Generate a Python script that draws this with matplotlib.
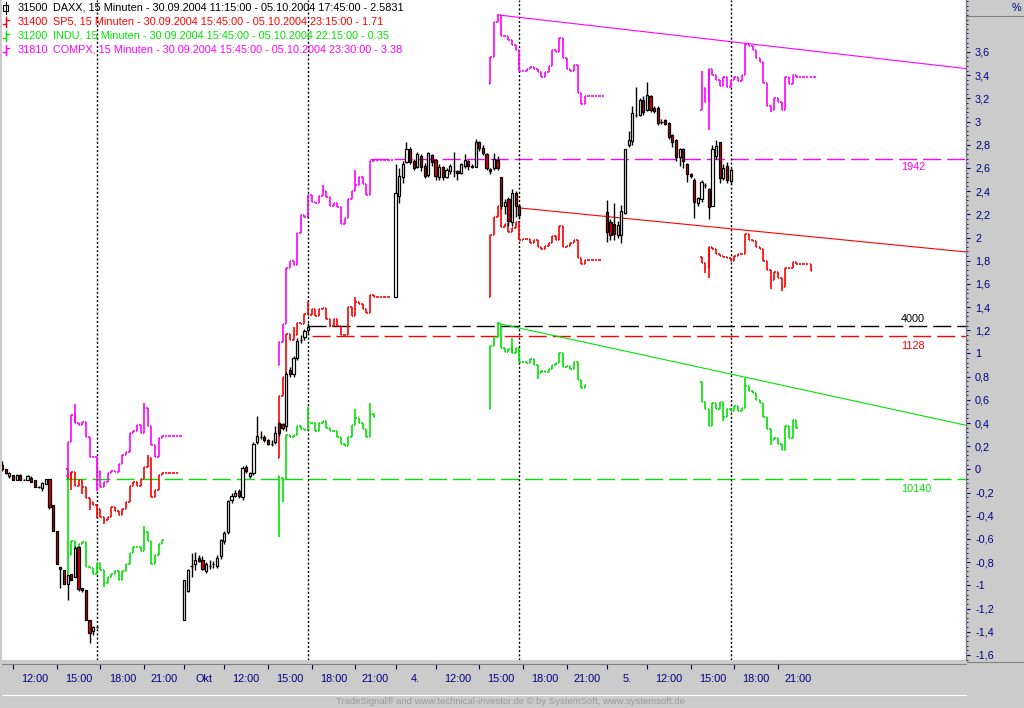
import matplotlib
matplotlib.use('Agg')
import matplotlib.pyplot as plt
import numpy as np
import pandas as pd
from matplotlib.collections import LineCollection
from matplotlib.lines import Line2D
from matplotlib.patches import Rectangle
from matplotlib.ticker import FixedLocator, MultipleLocator, FuncFormatter

# 15 minute bars, the time axis only holds bars that exist
SESSION_DAYS = ['2004-09-30', '2004-10-01', '2004-10-04', '2004-10-05']
SESSION_FIRST = ['11:15', '09:15', '09:15', '09:15']
SESSION_LAST = '23:30'
US_FIRST = '15:45'
DAX_LAST = '17:45'
MONTHS_DE = {10: 'Okt'}

# DAXX candles in %, one row per day
DAX_OPEN = [
    [0.04, 0.00, -0.06, -0.05, -0.09, -0.05, -0.09, -0.09, -0.07, -0.09, -0.15, -0.16, -0.13, -0.08,
     -0.31, -0.53, -0.84, -0.87, -0.99, -0.90, -0.93, -0.67, -1.02, -1.04, -1.30, -1.39, -1.36],
    [-1.30, -1.05, -0.83, -0.82, -0.76, -0.78, -0.88, -0.83, -0.82, -0.83, -0.75, -0.62, -0.54, -0.26,
     -0.23, -0.19, -0.24, 0.02, -0.06, -0.03, 0.24, 0.28, 0.28, 0.25, 0.22, 0.24, 0.40, 0.39, 0.37,
     0.86, 0.82, 0.96, 1.12, 1.14, 1.20],
    [1.49, 2.36, 2.52, 2.65, 2.76, 2.66, 2.61, 2.70, 2.62, 2.54, 2.71, 2.67, 2.52, 2.61, 2.52, 2.57,
     2.57, 2.57, 2.56, 2.62, 2.66, 2.62, 2.61, 2.82, 2.77, 2.72, 2.59, 2.60, 2.67, 2.52, 2.27, 2.33,
     2.13, 2.38, 2.27],
    [2.22, 2.13, 2.12, 2.02, 2.02, 2.21, 2.80, 2.83, 3.06, 3.06, 3.19, 3.10, 3.22, 3.12, 3.12, 3.00,
     3.01, 2.99, 2.88, 2.84, 2.69, 2.76, 2.63, 2.55, 2.50, 2.30, 2.33, 2.45, 2.42, 2.27, 2.70, 2.82,
     2.51, 2.62, 2.49],
]
DAX_HIGH = [
    [0.07, 0.00, -0.02, -0.05, -0.04, -0.04, -0.08, -0.05, -0.06, -0.09, -0.14, -0.11, -0.08, -0.08,
     -0.31, -0.53, -0.84, -0.87, -0.91, -0.90, -0.66, -0.66, -1.02, -1.04, -1.30, -1.35, -1.35],
    [-0.95, -0.86, -0.72, -0.71, -0.74, -0.75, -0.80, -0.78, -0.79, -0.74, -0.60, -0.53, -0.26, -0.20,
     -0.18, -0.17, 0.03, 0.04, -0.02, 0.24, 0.46, 0.33, 0.30, 0.26, 0.25, 0.37, 0.41, 0.40, 0.84,
     0.88, 0.98, 1.13, 1.16, 1.21, 1.26],
    [2.63, 2.60, 2.66, 2.82, 2.78, 2.68, 2.74, 2.72, 2.64, 2.74, 2.72, 2.68, 2.63, 2.62, 2.60, 2.63,
     2.74, 2.58, 2.64, 2.72, 2.67, 2.63, 2.85, 2.83, 2.80, 2.73, 2.60, 2.73, 2.70, 2.52, 2.33, 2.35,
     2.42, 2.40, 2.29],
    [2.32, 2.16, 2.30, 2.14, 2.28, 2.76, 2.92, 3.13, 3.30, 3.20, 3.22, 3.34, 3.23, 3.13, 3.13, 3.02,
     3.02, 3.00, 2.89, 2.85, 2.77, 2.77, 2.64, 2.56, 2.51, 2.35, 2.50, 2.47, 2.43, 2.80, 2.84, 2.82,
     2.63, 2.65, 2.60],
]
DAX_LOW = [
    [-0.01, -0.04, -0.07, -0.09, -0.09, -0.09, -0.09, -0.09, -0.11, -0.15, -0.16, -0.19, -0.13, -0.34,
     -0.53, -0.82, -1.02, -0.99, -1.13, -0.95, -0.93, -1.05, -1.06, -1.30, -1.50, -1.43, -1.37],
    [-1.30, -1.06, -0.93, -0.87, -0.80, -0.87, -0.89, -0.86, -0.85, -0.85, -0.77, -0.64, -0.56, -0.29,
     -0.24, -0.25, -0.26, -0.03, -0.07, -0.05, 0.22, 0.26, 0.24, 0.21, 0.20, 0.22, 0.29, 0.34, 0.33,
     0.80, 0.80, 0.94, 1.09, 1.12, 1.18],
    [1.49, 2.30, 2.47, 2.64, 2.63, 2.58, 2.60, 2.57, 2.51, 2.52, 2.62, 2.50, 2.50, 2.50, 2.51, 2.55,
     2.52, 2.50, 2.55, 2.60, 2.58, 2.60, 2.61, 2.75, 2.71, 2.58, 2.55, 2.58, 2.58, 2.25, 2.20, 2.10,
     2.10, 2.18, 2.16],
    [1.96, 1.98, 1.98, 2.00, 1.95, 2.20, 2.78, 2.80, 3.04, 3.05, 3.06, 3.09, 3.08, 3.07, 2.97, 2.98,
     2.97, 2.85, 2.78, 2.66, 2.62, 2.60, 2.48, 2.51, 2.17, 2.27, 2.31, 2.43, 2.16, 2.27, 2.68, 2.47,
     2.50, 2.47, 2.46],
]
DAX_CLOSE = [
    [0.00, -0.03, -0.03, -0.09, -0.05, -0.09, -0.09, -0.06, -0.11, -0.15, -0.15, -0.12, -0.08, -0.32,
     -0.53, -0.82, -0.86, -0.99, -0.91, -0.95, -0.68, -1.03, -1.04, -1.30, -1.41, -1.36, -1.36],
    [-0.95, -0.87, -0.83, -0.78, -0.79, -0.86, -0.82, -0.83, -0.82, -0.76, -0.61, -0.55, -0.27, -0.23,
     -0.20, -0.23, 0.01, -0.01, -0.03, 0.22, 0.29, 0.28, 0.25, 0.22, 0.22, 0.31, 0.31, 0.36, 0.82,
     0.82, 0.96, 1.11, 1.12, 1.19, 1.23],
    [2.38, 2.53, 2.63, 2.76, 2.65, 2.60, 2.72, 2.61, 2.53, 2.73, 2.65, 2.53, 2.61, 2.52, 2.58, 2.62,
     2.57, 2.56, 2.63, 2.67, 2.62, 2.61, 2.82, 2.77, 2.73, 2.60, 2.57, 2.68, 2.60, 2.27, 2.31, 2.14,
     2.38, 2.27, 2.19],
    [2.05, 2.02, 2.03, 2.11, 2.23, 2.76, 2.84, 3.07, 3.06, 3.19, 3.08, 3.23, 3.10, 3.09, 2.99, 3.00,
     2.98, 2.87, 2.82, 2.69, 2.76, 2.66, 2.55, 2.53, 2.31, 2.34, 2.48, 2.45, 2.26, 2.76, 2.79, 2.51,
     2.60, 2.50, 2.58],
]

# US indices in %, closes from 15:45 each day, plus the day's open
SP5_DAY_OPEN = [0.00, 0.10, 1.49, 1.83]
SP5_CLOSE = [
    [-0.08, -0.02, -0.14, -0.09, -0.15, -0.25, -0.28, -0.31, -0.34, -0.41, -0.44, -0.41, -0.32, -0.36,
     -0.39, -0.34, -0.28, -0.14, -0.11, -0.14, -0.08, 0.02, 0.10, -0.24, -0.18, -0.05,
     -0.03, -0.03, -0.03, -0.03, -0.03],
    [0.63, 0.80, 1.17, 1.12, 1.16, 1.26, 1.25, 1.34, 1.33, 1.38, 1.32, 1.38, 1.39, 1.30, 1.24, 1.30,
     1.24, 1.16, 1.16, 1.40, 1.32, 1.44, 1.43, 1.38, 1.35, 1.50,
     1.49, 1.49, 1.49, 1.49, 1.49],
    [2.02, 2.18, 2.27, 2.09, 2.12, 2.05, 2.08, 2.13, 1.98, 1.99, 1.99, 1.95, 1.98, 1.92, 1.90, 1.93,
     1.95, 2.01, 1.98, 2.10, 1.92, 1.93, 1.95, 1.98, 1.82, 1.77,
     1.81, 1.81, 1.81, 1.81, 1.81],
    [1.78, 1.74, 1.92, 1.90, 1.86, 1.84, 1.83, 1.82, 1.80, 1.84, 1.86, 1.86, 2.03, 1.98, 1.97, 1.92,
     1.90, 1.80, 1.72, 1.63, 1.70, 1.65, 1.57, 1.74, 1.74, 1.79,
     1.77, 1.77, 1.77, 1.77, 1.71],
]
SP5_EXTREMES = [(0, 1, -0.18), (0, 4, -0.21), (0, 6, -0.35), (0, 8, -0.42), (0, 10, -0.47),
                (0, 22, 0.12), (1, 4, 1.23), (1, 8, 1.45), (1, 14, 1.23), (1, 21, 1.49),
                (3, 1, 1.69), (3, 2, 1.65), (3, 19, 1.56), (3, 22, 1.535)]

INDU_DAY_OPEN = [-0.08, -0.06, 0.52, 0.75]
INDU_CLOSE = [
    [-0.74, -0.62, -0.70, -0.64, -0.63, -0.84, -0.85, -0.90, -0.81, -0.87, -0.98, -0.93, -0.90, -0.88,
     -0.95, -0.88, -0.82, -0.72, -0.67, -0.67, -0.70, -0.54, -0.62, -0.82, -0.74, -0.64, -0.61],
    [-0.07, -0.08, 0.30, 0.28, 0.30, 0.37, 0.35, 0.34, 0.40, 0.40, 0.33, 0.40, 0.42, 0.36, 0.33, 0.33,
     0.28, 0.22, 0.20, 0.28, 0.38, 0.44, 0.40, 0.35, 0.28, 0.48, 0.45],
    [1.06, 1.14, 1.25, 1.05, 1.01, 1.04, 1.00, 1.05, 0.93, 0.93, 0.92, 0.95, 0.90, 0.83, 0.85, 0.84,
     0.87, 0.90, 0.92, 1.00, 0.88, 0.89, 0.87, 0.93, 0.77, 0.70, 0.73],
    [0.58, 0.52, 0.37, 0.57, 0.52, 0.58, 0.45, 0.52, 0.50, 0.55, 0.50, 0.53, 0.72, 0.68, 0.66, 0.60,
     0.57, 0.45, 0.35, 0.25, 0.27, 0.22, 0.17, 0.37, 0.27, 0.43, 0.36],
]
INDU_EXTREMES = [(0, 0, -0.98), (0, 10, -1.01), (0, 21, -0.49), (1, 0, -0.58), (1, 1, -0.28),
                 (1, 8, 0.54), (1, 21, 0.52), (1, 25, 0.57), (2, 2, 1.27), (2, 6, 1.13),
                 (2, 13, 0.78), (3, 12, 0.79), (3, 19, 0.21), (3, 6, 0.42)]

COMPX_DAY_OPEN = [-0.06, 0.90, 3.32, 3.10]
COMPX_CLOSE = [
    [0.24, 0.47, 0.40, 0.38, 0.41, 0.28, 0.11, 0.11, -0.01, -0.15, -0.11, -0.03, -0.01, -0.02, 0.05,
     0.12, 0.15, 0.31, 0.33, 0.38, 0.31, 0.53, 0.37, 0.21, 0.11, 0.27,
     0.29, 0.29, 0.29, 0.29, 0.29, 0.29],
    [1.10, 1.25, 1.74, 1.80, 1.76, 2.04, 2.19, 2.18, 2.37, 2.31, 2.30, 2.36, 2.40, 2.35, 2.27, 2.30,
     2.26, 2.12, 2.17, 2.33, 2.40, 2.45, 2.52, 2.46, 2.37, 2.66,
     2.67, 2.67, 2.67, 2.67, 2.67, 2.67],
    [3.56, 3.86, 3.92, 3.74, 3.74, 3.70, 3.66, 3.62, 3.44, 3.44, 3.45, 3.47, 3.45, 3.43, 3.38, 3.43,
     3.48, 3.62, 3.60, 3.72, 3.55, 3.45, 3.44, 3.49, 3.25, 3.15,
     3.22, 3.22, 3.22, 3.22, 3.22, 3.22],
    [3.29, 3.17, 3.45, 3.40, 3.36, 3.31, 3.38, 3.30, 3.36, 3.38, 3.35, 3.40, 3.67, 3.65, 3.62, 3.55,
     3.51, 3.33, 3.13, 3.10, 3.20, 3.17, 3.10, 3.38, 3.32, 3.40,
     3.38, 3.38, 3.38, 3.38, 3.38, 3.38],
]
COMPX_EXTREMES = [(0, 2, 0.56), (0, 8, -0.19), (0, 21, 0.57), (1, 12, 2.45), (1, 21, 2.58),
                  (3, 0, 3.44), (3, 2, 2.93), (3, 19, 3.08)]

# horizontal reference lines
REF_NAMES = ['1942', '4000', '1128', '10140']
REF_LEVELS = [2.677, 1.237, 1.150, -0.083]
REF_FROM = [('2004-10-01', '22:00'), ('2004-10-01', '17:45'), ('2004-10-01', '18:00'),
            ('2004-09-30', '15:45')]

# trend lines: two anchors (day, time, %) each, drawn to the right edge
TREND_SERIES = ['COMPX', 'SP5', 'INDU']
TREND_START = [('2004-10-04', '16:15', 3.92), ('2004-10-04', '17:45', 2.255), ('2004-10-04', '16:15', 1.26)]
TREND_THROUGH = [('2004-10-05', '18:45', 3.675), ('2004-10-05', '18:45', 2.063), ('2004-10-05', '18:45', 0.795)]

LEGEND_IDS = ['31500', '31400', '31200', '31810']
LEGEND_TEXT = ['DAXX, 15 Minuten - 30.09.2004 11:15:00 - 05.10.2004 17:45:00 - 2.5831',
               'SP5, 15 Minuten - 30.09.2004 15:45:00 - 05.10.2004 23:15:00 - 1.71',
               'INDU, 15 Minuten - 30.09.2004 15:45:00 - 05.10.2004 22:15:00 - 0.35',
               'COMPX, 15 Minuten - 30.09.2004 15:45:00 - 05.10.2004 23:30:00 - 3.38']

COLORS = {'DAX': 'black', 'SP5': '#ff0000', 'INDU': '#00e400', 'COMPX': '#ff00ff'}
REF_COLORS = [COLORS['COMPX'], 'black', COLORS['SP5'], COLORS['INDU']]
LEGEND_COLORS = [COLORS['DAX'], COLORS['SP5'], COLORS['INDU'], COLORS['COMPX']]
NAVY = '#000080'
PANEL = '#cbcbcb'
FS = 7.8

W, H = 1024, 708
PLOT_L, PLOT_R, PLOT_B = 2, 966, 660
BAR0_PX, BAR_PX = 2.07, 3.643
ZERO_PX, UNIT_PX = 469.4, 115.95

plt.rcParams['font.family'] = ['Liberation Sans', 'DejaVu Sans']


def build_slots():
    stamps = []
    for day, first in zip(SESSION_DAYS, SESSION_FIRST):
        stamps.extend(pd.date_range(f'{day} {first}', f'{day} {SESSION_LAST}', freq='15min'))
    return pd.DatetimeIndex(stamps)


SLOTS = build_slots()


def slot_of(day, hhmm):
    return SLOTS.get_loc(pd.Timestamp(f'{day} {hhmm}'))


def fig_xy(x, y):
    return x / W, 1 - y / H


def time_ticks():
    ticks, labels = [], []
    for i, t in enumerate(SLOTS):
        if i > 0 and SLOTS[i - 1].date() != t.date():
            ticks.append(i)
            labels.append(MONTHS_DE[t.month] if t.month != SLOTS[i - 1].month else f'{t.day}.')
        elif t.minute == 0 and t.hour in (12, 15, 18, 21):
            ticks.append(i)
            labels.append(t.strftime('%H:%M'))
    return ticks, labels


def pct_label(v, pos):
    v = round(v, 1)
    if v == int(v):
        return str(int(v))
    return f'{v:.1f}'.replace('.', ',')


def draw_candles(ax):
    for d, day in enumerate(SESSION_DAYS):
        x0 = slot_of(day, SESSION_FIRST[d])
        o = np.array(DAX_OPEN[d])
        c = np.array(DAX_CLOSE[d])
        xs = x0 + np.arange(len(o))
        ax.vlines(xs, DAX_LOW[d], DAX_HIGH[d], color='black', lw=1.0, zorder=5)
        fills = ['white' if cc > oo else '#e00000' for oo, cc in zip(o, c)]
        ax.bar(xs, c - o, bottom=o, width=0.6, color=fills, edgecolor='black',
               linewidth=0.9, zorder=6)


def draw_us(ax, day_open, closes, extremes, color):
    tick = 0.36
    segs = []
    for d, day in enumerate(SESSION_DAYS):
        x0 = slot_of(day, US_FIRST)
        prev = day_open[d]
        for i, c in enumerate(closes[d]):
            x = x0 + i
            if c != prev:
                segs.append([(x, prev), (x, c)])
            segs.append([(x - tick, prev), (x, prev)])
            segs.append([(x, c), (x + tick, c)])
            prev = c
    for d, i, v in extremes:
        x = slot_of(SESSION_DAYS[d], US_FIRST) + i
        segs.append([(x, closes[d][i]), (x, v)])
    ax.add_collection(LineCollection(segs, colors=color, linewidths=1.2, capstyle='butt', zorder=4))


def main():
    fig = plt.figure(figsize=(W / 100, H / 100), dpi=100, facecolor=PANEL)
    ax = fig.add_axes([PLOT_L / W, 1 - PLOT_B / H, (PLOT_R - PLOT_L) / W, PLOT_B / H])
    ax.set_facecolor('white')
    xmin = (PLOT_L - BAR0_PX) / BAR_PX
    xmax = (PLOT_R - BAR0_PX) / BAR_PX
    ax.set_xlim(xmin, xmax)
    ax.set_ylim((ZERO_PX - PLOT_B) / UNIT_PX, ZERO_PX / UNIT_PX)

    for name, level, (day, hhmm), color in zip(REF_NAMES, REF_LEVELS, REF_FROM, REF_COLORS):
        ax.plot([slot_of(day, hhmm), xmax], [level, level], color=color, lw=1.0,
                dashes=(13, 4.3), zorder=1)
    label_x = (901 - BAR0_PX) / BAR_PX
    for name, level, color, dy in zip(REF_NAMES, REF_LEVELS, REF_COLORS, [-8, 7, -10, -10]):
        ax.annotate(name, (label_x, level), xytext=(0, dy * 0.72), textcoords='offset points',
                    ha='left', va='center', color=color, fontsize=FS, zorder=8)

    for day in SESSION_DAYS:
        ax.axvline(slot_of(day, DAX_LAST), color='black', lw=1.0, dashes=(1.5, 1.5), zorder=2)

    for series, (d1, t1, v1), (d2, t2, v2) in zip(TREND_SERIES, TREND_START, TREND_THROUGH):
        x1, x2 = slot_of(d1, t1), slot_of(d2, t2)
        slope = (v2 - v1) / (x2 - x1)
        ax.plot([x1, xmax], [v1, v1 + slope * (xmax - x1)], color=COLORS[series], lw=0.8, zorder=3)

    draw_us(ax, SP5_DAY_OPEN, SP5_CLOSE, SP5_EXTREMES, COLORS['SP5'])
    draw_us(ax, INDU_DAY_OPEN, INDU_CLOSE, INDU_EXTREMES, COLORS['INDU'])
    draw_us(ax, COMPX_DAY_OPEN, COMPX_CLOSE, COMPX_EXTREMES, COLORS['COMPX'])
    draw_candles(ax)

    for side in ['left', 'top', 'bottom']:
        ax.spines[side].set_visible(False)
    ax.spines['right'].set_color('#808080')
    ax.spines['right'].set_linewidth(1.0)
    ax.set_xticks([])
    ax.yaxis.tick_right()
    ax.yaxis.set_major_locator(FixedLocator(np.round(np.arange(-1.6, 3.61, 0.2), 1)))
    ax.yaxis.set_minor_locator(MultipleLocator(0.04))
    ax.yaxis.set_major_formatter(FuncFormatter(pct_label))
    ax.tick_params(axis='y', which='major', direction='out', length=3, width=0.8, color=NAVY,
                   labelcolor=NAVY, labelsize=FS, pad=3.5)
    ax.tick_params(axis='y', which='minor', direction='out', length=1.2, width=0.7, color=NAVY)

    # time axis band
    band = fig.add_axes([PLOT_L / W, (H - 695) / H, (PLOT_R - PLOT_L) / W, 31 / H])
    band.set_facecolor(PANEL)
    band.set_xlim(xmin, xmax)
    band.set_ylim(0, 1)
    band.set_yticks([])
    for side in ['left', 'right']:
        band.spines[side].set_visible(False)
    band.spines['top'].set_color('#808080')
    band.spines['bottom'].set_color('white')
    ticks, labels = time_ticks()
    band.set_xticks(ticks)
    band.tick_params(axis='x', top=True, bottom=False, direction='in', length=3.5, width=0.8,
                     color=NAVY, labeltop=False, labelbottom=False)
    ends = ticks[1:] + [len(SLOTS)]
    for t, nxt, lab in zip(ticks, ends, labels):
        band.text((t + nxt) / 2, 0.52, lab, ha='center', va='center', color=NAVY, fontsize=FS)

    # right panel header and footer lines
    fig.add_artist(Line2D([967 / W, 1], [1 - 16 / H] * 2, color='#808080', lw=0.8))
    fig.add_artist(Line2D([967 / W, 1], [1 - 662 / H] * 2, color='#808080', lw=0.8))
    fig.text(*fig_xy(1016, 8), '%', ha='center', va='center', color=NAVY, fontsize=FS)
    fig.text(*fig_xy(510, 701), 'TradeSignal® and www.technical-investor.de © by SystemSoft, www.systemsoft.de',
             ha='center', va='center', color='#9a9a9a', fontsize=6.8)

    # legend
    for k, (num, text, color) in enumerate(zip(LEGEND_IDS, LEGEND_TEXT, LEGEND_COLORS)):
        yc = 8 + 14 * k
        fig.text(*fig_xy(18, yc), num, ha='left', va='center', color=color, fontsize=FS)
        fig.text(*fig_xy(53, yc), text, ha='left', va='center', color=color, fontsize=FS)
        if k == 0:
            fig.add_artist(Line2D(*zip(fig_xy(5.5, yc - 6), fig_xy(5.5, yc + 6)), color=color, lw=0.8))
            x, y = fig_xy(3, yc + 3)
            fig.add_artist(Rectangle((x, y), 5 / W, 6 / H, facecolor='white', edgecolor=color,
                                     lw=0.8, transform=fig.transFigure))
        else:
            fig.add_artist(Line2D(*zip(fig_xy(5.5, yc - 5), fig_xy(5.5, yc + 5)), color=color, lw=1.0))
            fig.add_artist(Line2D(*zip(fig_xy(2.5, yc + 2), fig_xy(5.5, yc + 2)), color=color, lw=1.0))
            fig.add_artist(Line2D(*zip(fig_xy(5.5, yc - 2), fig_xy(8.5, yc - 2)), color=color, lw=1.0))

    fig.savefig('out.png', dpi=100, facecolor=PANEL)


if __name__ == '__main__':
    main()
